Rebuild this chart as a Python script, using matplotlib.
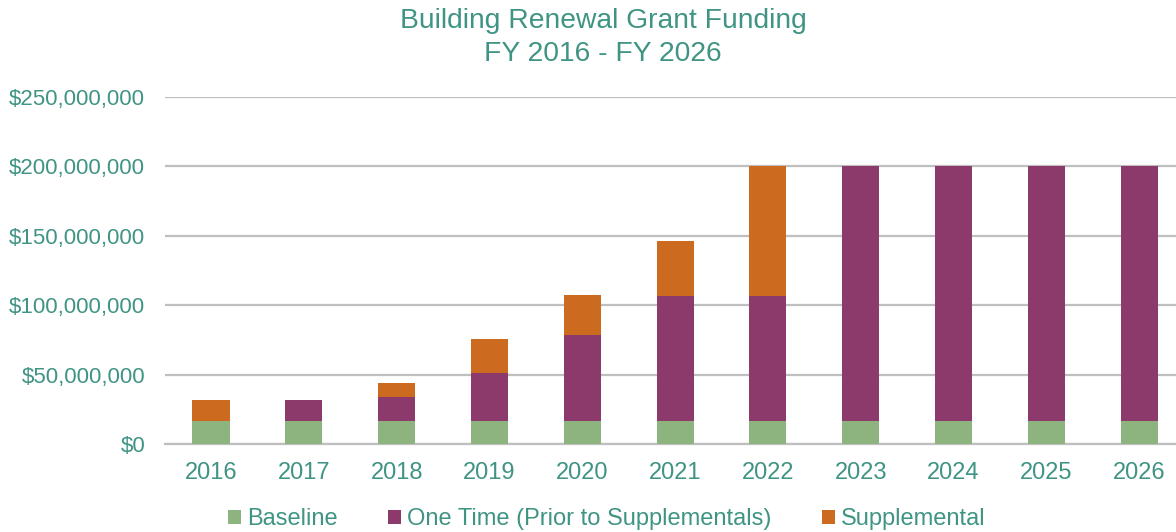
import numpy as np
import matplotlib.pyplot as plt
from matplotlib.ticker import FuncFormatter

# Building renewal grant funding, values in millions of dollars
years = ["2016", "2017", "2018", "2019", "2020", "2021", "2022", "2023", "2024", "2025", "2026"]
baseline = [16.7] * 11
one_time = [0, 14.7, 16.9, 34.5, 62.1, 90.0, 90.0, 183.3, 183.3, 183.3, 183.3]
supplemental = [14.7, 0, 10.4, 24.8, 28.2, 39.7, 93.3, 0, 0, 0, 0]

teal = "#3F9484"
green = "#8DB47E"
purple = "#8B3A6B"
orange = "#CC6A1F"

plt.rcParams['font.family'] = ['Liberation Sans', 'DejaVu Sans']

fig = plt.figure(figsize=(11.76, 5.32), dpi=100)
ax = fig.add_axes([164.6 / 1176, 88 / 532, 1021 / 1176, 347 / 532])

x = np.arange(len(years))
base = np.array(baseline) * 1e6
one = np.array(one_time) * 1e6
sup = np.array(supplemental) * 1e6
w = 0.4
ax.bar(x, base, w, color=green, label="Baseline", zorder=3)
ax.bar(x, one, w, bottom=base, color=purple, label="One Time (Prior to Supplementals)", zorder=3)
ax.bar(x, sup, w, bottom=base + one, color=orange, label="Supplemental", zorder=3)

ax.set_xlim(-0.5, len(years) - 0.5)
ax.set_ylim(0, 250e6)
ax.set_yticks(np.arange(0, 250e6 + 1, 50e6))
ax.yaxis.set_major_formatter(FuncFormatter(lambda v, p: "${:,.0f}".format(v)))
ax.set_xticks(x)
ax.set_xticklabels(years)
ax.tick_params(axis='both', length=0, colors=teal)
ax.tick_params(axis='x', labelsize=17, pad=13)
ax.tick_params(axis='y', labelsize=16, pad=14)
ax.grid(axis='y', color="#BFBFBF", linewidth=1.6, zorder=0)
for s in ["top", "right", "left"]:
    ax.spines[s].set_visible(False)
ax.spines["bottom"].set_color("#BFBFBF")
ax.spines["bottom"].set_linewidth(1.6)

fig.text(603 / 1176, 1 - 21 / 532, "Building Renewal Grant Funding", ha='center', va='center',
         fontsize=20.3, color=teal)
fig.text(603 / 1176, 1 - 54 / 532, "FY 2016 - FY 2026", ha='center', va='center',
         fontsize=20.3, color=teal)

leg = fig.legend(loc='center', bbox_to_anchor=(607 / 1176, 1 - 519 / 532), ncol=3, frameon=False,
                 fontsize=17, handlelength=0.55, handleheight=0.55, handletextpad=0.25,
                 columnspacing=2.15, borderpad=0)
for t in leg.get_texts():
    t.set_color(teal)

fig.savefig("out.png", dpi=100)
